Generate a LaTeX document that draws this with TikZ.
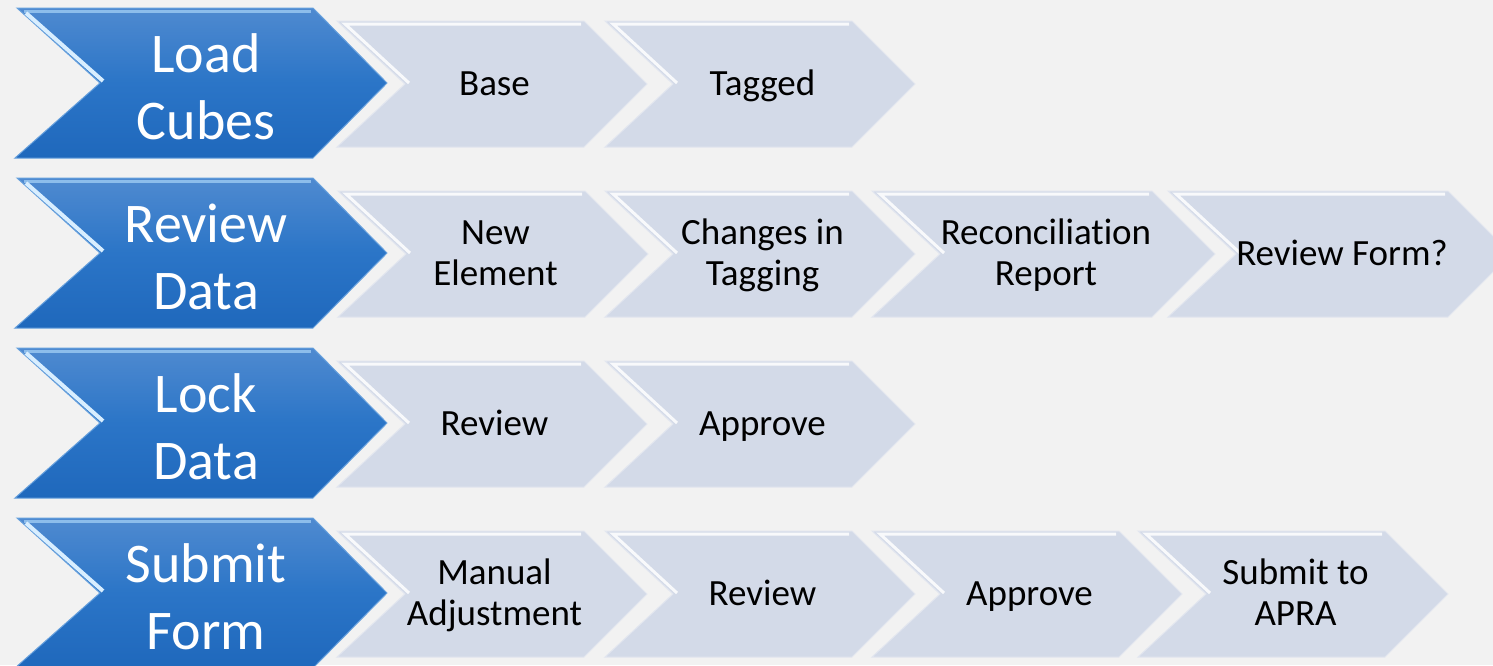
\documentclass[tikz,border=0pt]{standalone}
\usepackage{fontspec}
\setmainfont{Carlito}[Ligatures=NoCommon]
\definecolor{bgc}{HTML}{F2F2F2}
\definecolor{grayfillc}{HTML}{D3DAE8}
\definecolor{grayedge}{HTML}{E2E6EF}
\definecolor{blueTop}{HTML}{4F8AD0}
\definecolor{blueMid}{HTML}{2B75C7}
\definecolor{blueBot}{HTML}{1F68BC}
\definecolor{bluerim}{HTML}{8DBDEB}
\definecolor{bluenotchc}{HTML}{D8EEFF}
\tikzset{
  grayshape/.style={fill=grayfillc, draw=grayedge, line width=1pt, line join=miter},
  grayhl/.style={draw=white, opacity=0.85, line width=3pt, line join=miter},
  graytext/.style={font=\fontsize{37}{41}\selectfont, text=black, align=center, inner sep=0pt},
  blueshape/.style={top color=blueTop, bottom color=blueBot, middle color=blueMid, draw=bluerim!60!blueMid, line width=1pt},
  bluehl/.style={draw=bluerim, line width=3pt},
  bluenotch/.style={draw=bluenotchc, line width=4pt},
  bluetext/.style={font=\fontsize{56}{67}\selectfont, text=white, align=center, inner sep=0pt}
}
\newcommand\graychev[5]{%
  \path[grayshape] (#2,#3) -- ++(#4,0) -- ++(63,63) -- ++(-63,63) -- ++(-#4,0) -- ++(68,-63) -- cycle;
  \draw[grayhl] (#2+#4-3,#3+3) -- (#2+8,#3+3) -- (#2+72,#3+62);
  \node[graytext] (#1) at (#2+34+#4/2,#3+66) {\strut #5};
}
\newcommand\bluechev[3]{%
  \path[blueshape] (17,#2) -- (313,#2) -- (387,#2+75) -- (313,#2+150) -- (15,#2+150) -- (100,#2+75) -- cycle;
  \draw[bluehl] (311,#2+3) -- (24,#2+3);
  \draw[bluenotch] (26,#2+5) -- (103,#2+73);
  \node[bluetext] (#1) at (206,#2+79) {#3};
}
\begin{document}
\begin{tikzpicture}[x=1pt,y=-1pt]
\useasboundingbox (0,0) rectangle (1493,665);
\fill[bgc] (0,0) rectangle (1493,665);
% row 1
\graychev{base}{337}{21}{247}{Base}
\graychev{tagged}{605}{21}{247}{Tagged}
\bluechev{load}{8}{Load\\Cubes}
% row 2
\graychev{newel}{338}{191}{247}{New\\\strut Element}
\graychev{chg}{605}{191}{247}{Changes in\\\strut Tagging}
\graychev{recon}{872}{191}{280}{Reconciliation\\\strut Report}
\graychev{revform}{1168}{191}{280}{Review Form?}
\bluechev{review}{178}{Review\\Data}
% row 3
\graychev{rev3}{337}{361}{247}{Review}
\graychev{app3}{605}{361}{247}{Approve}
\bluechev{lock}{348}{Lock\\Data}
% row 4
\graychev{manual}{337}{531}{247}{Manual\\\strut Adjustment}
\graychev{rev4}{605}{531}{247}{Review}
\graychev{app4}{872}{531}{247}{Approve}
\graychev{apra}{1138}{531}{247}{Submit to\\\strut APRA}
\bluechev{submit}{518}{Submit\\Form}
\end{tikzpicture}
\end{document}
